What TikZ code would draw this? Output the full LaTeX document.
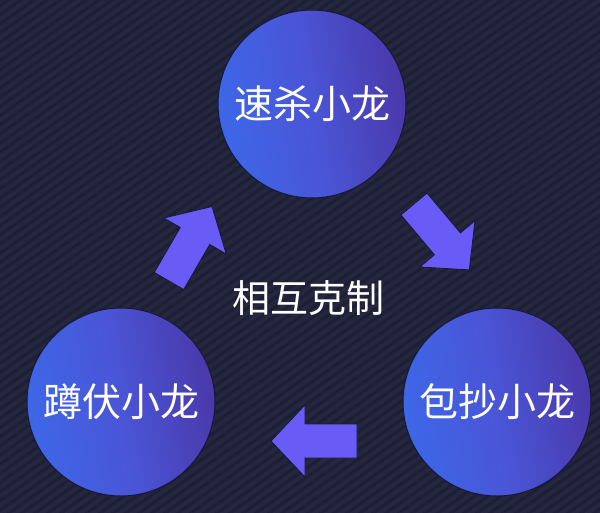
\documentclass[tikz,border=0pt]{standalone}
\usepackage{fontspec}
\newfontfamily\cjk{Noto Sans CJK SC}
\definecolor{bgnavy}{HTML}{1D2035}
\definecolor{bgstripe}{HTML}{24273E}
\definecolor{circL}{HTML}{3D67E8}
\definecolor{circM}{HTML}{4A55D6}
\definecolor{circR}{HTML}{4A38AA}
\definecolor{arrowc}{HTML}{6B5BF6}
\definecolor{edgec}{HTML}{161838}
\tikzset{
  x=1pt, y=-1pt,
  ball/.style={circle, minimum size=188pt, inner sep=0pt, draw=edgec, line width=1pt,
    left color=circL, right color=circR, middle color=circM, shading angle=100,
    text=white, font=\cjk\fontsize{39}{44}\selectfont},
  midtext/.style={text=white, font=\cjk\fontsize{38}{44}\selectfont, inner sep=0pt},
  stripe/.style={draw=bgstripe, line width=4pt},
  blockarrow/.pic={
    \filldraw[fill=arrowc, draw=edgec, line width=0.8pt]
      (0,-17) -- (52,-17) -- (52,-36) -- (86,0) -- (52,36) -- (52,17) -- (0,17) -- cycle;
  }
}
\begin{document}
\begin{tikzpicture}
\useasboundingbox (0,0) rectangle (600,512);
\fill[bgnavy] (-6,-6) rectangle (606,518);
\begin{scope}
  \clip (-6,-6) rectangle (606,518);
  \foreach \i in {-60,...,47} {
    \draw[stripe] (\i*13,524) -- ++(751,-530);
  }
\end{scope}

\node[ball] (top) at (312,104) {速杀小龙};
\node[ball] (left) at (121,402) {蹲伏小龙};
\node[ball] (right) at (497,402) {包抄小龙};
\node[midtext] (mid) at (308,298) {相互克制};

\pic (arrTR) at (414,204) [rotate=-50] {blockarrow};
\pic (arrB) at (357,441) [rotate=180] {blockarrow};
\pic (arrTL) at (169,281) [rotate=60] {blockarrow};
\end{tikzpicture}
\end{document}
